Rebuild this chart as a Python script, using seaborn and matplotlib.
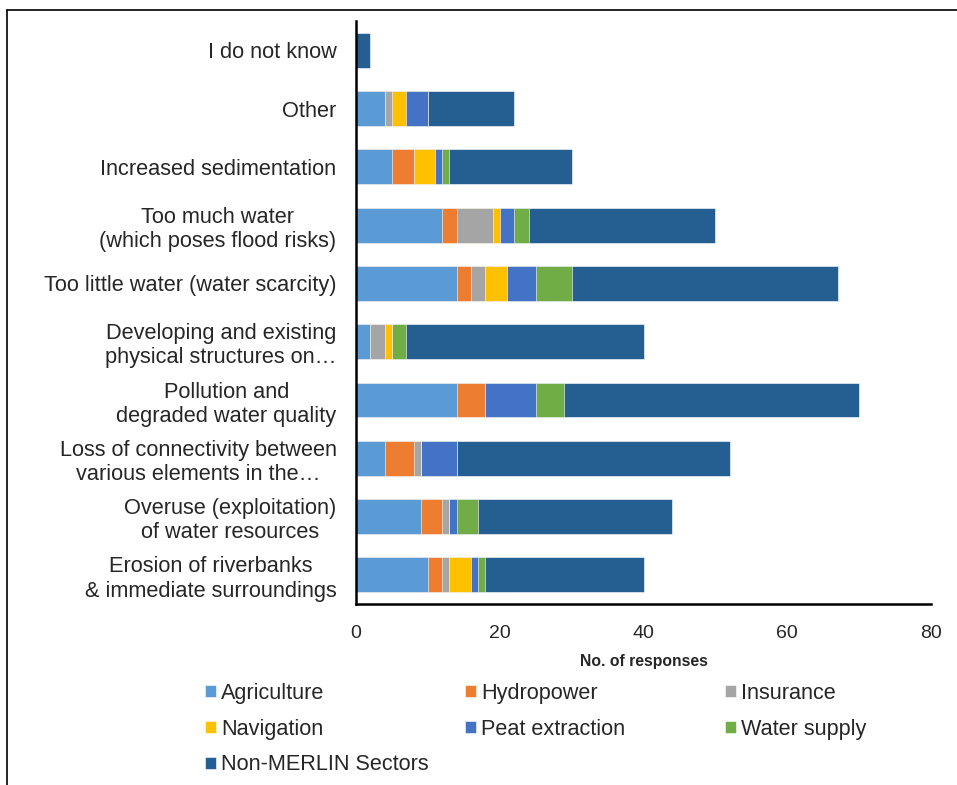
import pandas as pd
import numpy as np
import seaborn as sns
import matplotlib.pyplot as plt
from matplotlib.lines import Line2D

# categories, top to bottom
issues = ["I do not know",
          "Other",
          "Increased sedimentation",
          "Too much water\n(which poses flood risks)",
          "Too little water (water scarcity)",
          "Developing and existing\nphysical structures on\u2026",
          "Pollution and\ndegraded water quality",
          "Loss of connectivity between\nvarious elements in the\u2026",
          "Overuse (exploitation)\nof water resources",
          "Erosion of riverbanks\n& immediate surroundings"]

sectors = ["Agriculture", "Hydropower", "Insurance", "Navigation",
           "Peat extraction", "Water supply", "Non-MERLIN Sectors"]

agriculture = [0, 4, 5, 12, 14, 2, 14, 4, 9, 10]
hydropower = [0, 0, 3, 2, 2, 0, 4, 4, 3, 2]
insurance = [0, 1, 0, 5, 2, 2, 0, 1, 1, 1]
navigation = [0, 2, 3, 1, 3, 1, 0, 0, 0, 3]
peat = [0, 3, 1, 2, 4, 0, 7, 5, 1, 1]
water_supply = [0, 0, 1, 2, 5, 2, 4, 0, 3, 1]
non_merlin = [2, 12, 17, 26, 37, 33, 41, 38, 27, 22]

colors = ["#5B9BD5", "#ED7D31", "#A5A5A5", "#FFC000",
          "#4472C4", "#70AD47", "#255E91"]

df = pd.DataFrame({"Issue": issues, "Agriculture": agriculture,
                   "Hydropower": hydropower, "Insurance": insurance,
                   "Navigation": navigation, "Peat extraction": peat,
                   "Water supply": water_supply,
                   "Non-MERLIN Sectors": non_merlin})

cum = df[sectors].cumsum(axis=1)

sns.set_style("white")
plt.rcParams["font.family"] = ["Liberation Sans", "DejaVu Sans"]

fig = plt.figure(figsize=(9.57, 7.85), dpi=100)
ax = fig.add_axes([0.372, 0.2306, 0.601, 0.7424])

# draw cumulative layers from the longest to the shortest so they stack
for sec, col in reversed(list(zip(sectors, colors))):
    sns.barplot(x=cum[sec], y=df["Issue"], order=issues, color=col,
                orient="h", width=0.6, label=sec, ax=ax,
                edgecolor="white", linewidth=0.4, saturation=1)

ax.set_xlim(0, 80)
ax.set_xticks([0, 20, 40, 60, 80])
ax.set_ylabel("")
ax.set_xlabel("No. of responses", fontsize=11.3, fontweight="bold", labelpad=9)
ax.tick_params(axis="y", length=0, pad=14, labelsize=15.7)
ax.tick_params(axis="x", length=0, pad=15, labelsize=14)
for t in ax.get_yticklabels():
    t.set_multialignment("center")

sns.despine(ax=ax)
for side in ["left", "bottom"]:
    ax.spines[side].set_linewidth(1.8)
    ax.spines[side].set_color("black")

# legend: one legend per column so the columns sit where the original has them
handles, labels = ax.get_legend_handles_labels()
lookup = dict(zip(labels, handles))
if ax.legend_:
    ax.legend_.remove()
columns = [["Agriculture", "Navigation", "Non-MERLIN Sectors"],
           ["Hydropower", "Peat extraction"],
           ["Insurance", "Water supply"]]
col_x = [205, 465, 725]
for names, x in zip(columns, col_x):
    fig.legend([lookup[n] for n in names], names, loc="upper left",
               bbox_to_anchor=(x / 957, 1 - 683 / 785),
               frameon=False, fontsize=15.6, handlelength=0.5,
               handleheight=0.5, handletextpad=0.25, labelspacing=0.68,
               borderaxespad=0, borderpad=0)

# outer frame (only top and left visible in the crop)
fig.add_artist(Line2D([7 / 957, 7 / 957], [0, 1 - 10 / 785], color="black", lw=1.2))
fig.add_artist(Line2D([7 / 957, 1], [1 - 10 / 785, 1 - 10 / 785], color="black", lw=1.2))

fig.savefig("out.png", dpi=100, facecolor="white")
